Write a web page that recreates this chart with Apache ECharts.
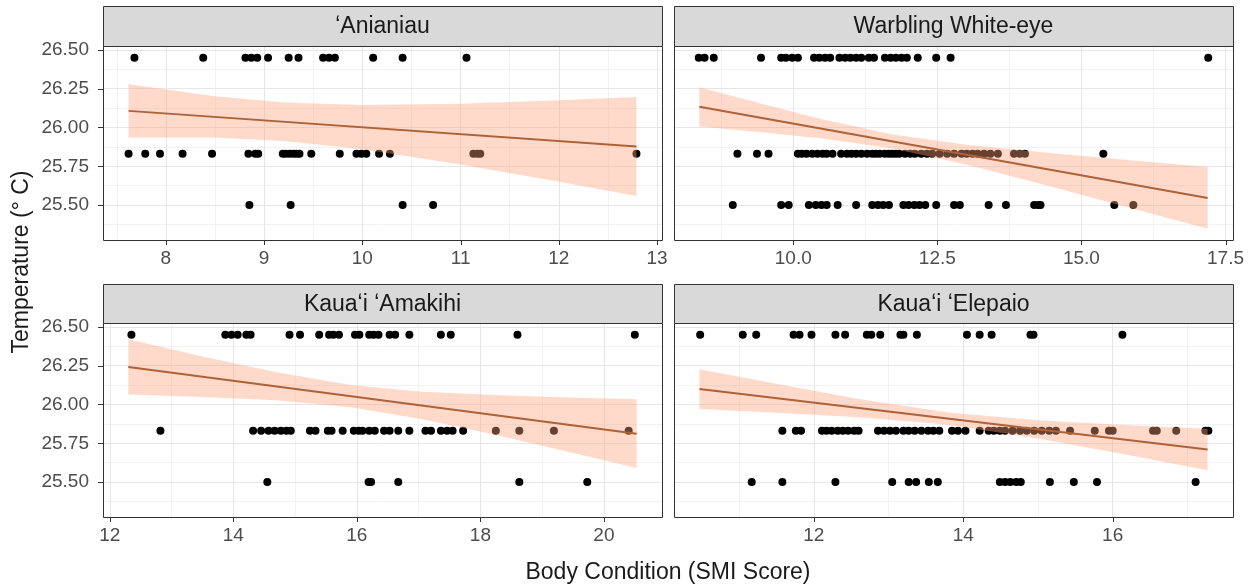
<!DOCTYPE html>
<html>
<head>
<meta charset="utf-8">
<script src="https://cdn.jsdelivr.net/npm/echarts@6/dist/echarts.min.js"></script>
<style>
html,body{margin:0;padding:0;background:#fff;}
#chart{width:1257px;height:588px;}
</style>
</head>
<body>
<div id="chart"></div>
<script>
// ---------------- data ----------------
const panelNames = ['ʻAnianiau', 'Warbling White-eye', 'Kauaʻi ʻAmakihi', 'Kauaʻi ʻElepaio'];
const tempLevels = [26.45, 25.83, 25.50];
const yTickValues = [25.5, 25.75, 26.0, 26.25, 26.5];
const xTickValues = [[8, 9, 10, 11, 12, 13], [10, 12.5, 15, 17.5], [12, 14, 16, 18, 20], [12, 14, 16]];
const xTickDecimals = [0, 1, 0, 0];
const xTitle = 'Body Condition (SMI Score)';
const yTitle = 'Temperature (° C)';

// ʻAnianiau
const anianiauHigh = [7.68, 8.38, 8.81, 8.87, 8.93, 9.04, 9.25, 9.35, 9.60, 9.66, 9.72, 10.11, 10.41, 11.06];
const anianiauMid = [7.62, 7.79, 7.94, 8.17, 8.47, 8.84, 8.91, 8.94, 9.19, 9.22, 9.26, 9.30, 9.33, 9.36, 9.48, 9.77, 9.94, 9.99, 10.04, 10.17, 10.28, 11.13, 11.17, 11.20, 12.79];
const anianiauLow = [8.85, 9.27, 10.41, 10.72];
const anianiauFitX = [7.62, 12.79];
const anianiauFitY = [26.107, 25.878];
const anianiauBandX = [7.62, 8.5, 9.2, 10.0, 11.0, 12.0, 12.79];
const anianiauBandHi = [26.278, 26.201, 26.161, 26.145, 26.153, 26.175, 26.197];
const anianiauBandLo = [25.936, 25.935, 25.913, 25.859, 25.761, 25.651, 25.559];

// Warbling White-eye
const warblingHigh = [8.36, 8.46, 8.62, 9.44, 9.79, 9.87, 9.98, 10.08, 10.36, 10.45, 10.55, 10.64, 10.80, 10.90, 10.99, 11.09, 11.18, 11.31, 11.40, 11.59, 11.69, 11.78, 11.88, 11.97, 12.16, 12.48, 12.73, 17.20];
const warblingMid = [9.03, 9.37, 9.57, 10.08, 10.15, 10.23, 10.33, 10.42, 10.51, 10.58, 10.68, 10.83, 10.93, 11.01, 11.09, 11.18, 11.28, 11.37, 11.43, 11.50, 11.59, 11.66, 11.72, 11.78, 11.84, 11.94, 12.03, 12.11, 12.22, 12.32, 12.41, 12.54, 12.67, 12.79, 12.92, 13.01, 13.11, 13.20, 13.31, 13.42, 13.55, 13.83, 13.93, 14.02, 15.38];
const warblingLow = [8.95, 9.79, 9.92, 10.27, 10.39, 10.49, 10.58, 10.77, 11.09, 11.37, 11.47, 11.56, 11.66, 11.91, 12.00, 12.10, 12.19, 12.29, 12.48, 12.79, 12.89, 13.39, 13.69, 14.18, 14.25, 14.29, 15.57, 15.90];
const warblingFitX = [8.37, 17.19];
const warblingFitY = [26.133, 25.546];
const warblingBandX = [8.37, 9.5, 10.5, 11.7, 13.0, 14.5, 15.8, 17.19];
const warblingBandHi = [26.259, 26.148, 26.053, 25.956, 25.889, 25.834, 25.790, 25.745];
const warblingBandLo = [26.007, 25.968, 25.929, 25.866, 25.761, 25.616, 25.486, 25.347];

// Kauaʻi ʻAmakihi
const amakihiHigh = [12.35, 13.87, 13.97, 14.07, 14.21, 14.28, 14.91, 15.08, 15.39, 15.55, 15.62, 15.71, 15.97, 16.04, 16.20, 16.27, 16.35, 16.53, 16.62, 16.85, 17.36, 17.52, 18.60, 20.50];
const amakihiMid = [12.82, 14.32, 14.45, 14.57, 14.67, 14.77, 14.86, 14.93, 15.24, 15.33, 15.53, 15.59, 15.77, 15.95, 16.03, 16.09, 16.20, 16.29, 16.44, 16.53, 16.67, 16.85, 17.11, 17.20, 17.36, 17.46, 17.55, 17.72, 18.25, 18.63, 19.19, 20.40];
const amakihiLow = [14.55, 16.19, 16.23, 16.67, 18.63, 19.73];
const amakihiFitX = [12.30, 20.53];
const amakihiFitY = [26.242, 25.812];
const amakihiBandX = [12.3, 13.5, 14.7, 15.9, 17.0, 18.2, 19.4, 20.53];
const amakihiBandHi = [26.420, 26.309, 26.207, 26.126, 26.084, 26.061, 26.045, 26.034];
const amakihiBandLo = [26.064, 26.049, 26.027, 25.982, 25.909, 25.808, 25.697, 25.591];

// Kauaʻi ʻElepaio
const elepaioHigh = [10.48, 11.05, 11.23, 11.73, 11.81, 11.97, 12.29, 12.42, 12.71, 12.77, 12.89, 13.16, 13.20, 13.38, 14.05, 14.22, 14.38, 14.90, 14.94, 16.13];
const elepaioMid = [11.58, 11.76, 11.83, 12.11, 12.17, 12.24, 12.32, 12.39, 12.46, 12.54, 12.60, 12.86, 12.94, 13.02, 13.10, 13.20, 13.27, 13.35, 13.44, 13.53, 13.60, 13.68, 13.85, 13.93, 14.03, 14.22, 14.34, 14.41, 14.49, 14.56, 14.66, 14.76, 14.85, 14.95, 15.05, 15.15, 15.24, 15.43, 15.76, 15.95, 16.00, 16.54, 16.59, 16.85, 17.24, 17.28];
const elepaioLow = [11.17, 11.58, 12.29, 13.05, 13.27, 13.37, 13.54, 13.66, 14.49, 14.56, 14.63, 14.71, 14.77, 15.16, 15.48, 15.79, 17.11];
const elepaioFitX = [10.47, 17.27];
const elepaioFitY = [26.099, 25.710];
const elepaioBandX = [10.47, 11.5, 12.6, 13.8, 15.0, 16.1, 17.27];
const elepaioBandHi = [26.227, 26.133, 26.036, 25.949, 25.899, 25.870, 25.843];
const elepaioBandLo = [25.971, 25.947, 25.918, 25.869, 25.781, 25.684, 25.577];

// axis limits (panel extents)
const xLimits = [[7.36, 13.05], [7.93, 17.63], [11.89, 20.94], [10.13, 17.61]];
const xSteps = [1, 2.5, 2, 2];
const yLimits = [25.275, 26.525];
const ySteps = 0.25;

// ---------------- layout ----------------
const FONT = '"Liberation Sans", Arial, sans-serif';
const colLeft = [103, 674];
const panelW = 559;
const rowTop = [46, 323];
const panelH = 194;
const stripTop = [6, 284];

const panels = [
  {high: anianiauHigh, mid: anianiauMid, low: anianiauLow, fx: anianiauFitX, fy: anianiauFitY, bx: anianiauBandX, bh: anianiauBandHi, bl: anianiauBandLo},
  {high: warblingHigh, mid: warblingMid, low: warblingLow, fx: warblingFitX, fy: warblingFitY, bx: warblingBandX, bh: warblingBandHi, bl: warblingBandLo},
  {high: amakihiHigh, mid: amakihiMid, low: amakihiLow, fx: amakihiFitX, fy: amakihiFitY, bx: amakihiBandX, bh: amakihiBandHi, bl: amakihiBandLo},
  {high: elepaioHigh, mid: elepaioMid, low: elepaioLow, fx: elepaioFitX, fy: elepaioFitY, bx: elepaioBandX, bh: elepaioBandHi, bl: elepaioBandLo}
];

const isIn = (list, v) => list.some(t => Math.abs(t - v) < 1e-6);

const grid = [], xAxis = [], yAxis = [], series = [], graphics = [];

panels.forEach((p, i) => {
  const col = i % 2, row = Math.floor(i / 2);
  const left = colLeft[col], top = rowTop[row];
  grid.push({left: left, top: top, width: panelW, height: panelH, containLabel: false, outerBoundsMode: 'none', show: false});
});
// main axes 0..3
panels.forEach((p, i) => {
  const col = i % 2;
  xAxis.push({
    gridIndex: i, type: 'value', min: xLimits[i][0], max: xLimits[i][1],
    minInterval: xSteps[i], maxInterval: xSteps[i], z: 2,
    axisLine: {show: false}, axisTick: {show: false},
    axisLabel: {show: true, color: '#4D4D4D', fontSize: 19, fontFamily: FONT, margin: 9,
      formatter: v => isIn(xTickValues[i], v) ? v.toFixed(xTickDecimals[i]) : ''},
    splitLine: {show: true, showMinLine: false, showMaxLine: false, lineStyle: {color: '#E6E6E6', width: 1}}
  });
  yAxis.push({
    gridIndex: i, type: 'value', min: yLimits[0], max: yLimits[1],
    minInterval: ySteps, maxInterval: ySteps, z: 2,
    axisLine: {show: false}, axisTick: {show: false},
    axisLabel: {show: col === 0, color: '#4D4D4D', fontSize: 19, fontFamily: FONT, margin: 14,
      formatter: v => isIn(yTickValues, v) ? v.toFixed(2) : ''},
    splitLine: {show: true, showMinLine: false, showMaxLine: false, lineStyle: {color: '#E6E6E6', width: 1}}
  });
});
// minor-grid axes 4..7
panels.forEach((p, i) => {
  xAxis.push({
    gridIndex: i, type: 'value', min: xLimits[i][0], max: xLimits[i][1],
    minInterval: xSteps[i] / 2, maxInterval: xSteps[i] / 2, z: 1,
    axisLine: {show: false}, axisTick: {show: false}, axisLabel: {show: false},
    splitLine: {show: true, showMinLine: false, showMaxLine: false, lineStyle: {color: '#F2F2F2', width: 1}}
  });
  yAxis.push({
    gridIndex: i, type: 'value', min: yLimits[0], max: yLimits[1],
    minInterval: ySteps / 2, maxInterval: ySteps / 2, z: 1,
    axisLine: {show: false}, axisTick: {show: false}, axisLabel: {show: false},
    splitLine: {show: true, showMinLine: false, showMaxLine: false, lineStyle: {color: '#F2F2F2', width: 1}}
  });
});

panels.forEach((p, i) => {
  const col = i % 2;
  const pts = [].concat(
    p.high.map(x => [x, tempLevels[0]]),
    p.mid.map(x => [x, tempLevels[1]]),
    p.low.map(x => [x, tempLevels[2]])
  );
  series.push({
    type: 'scatter', xAxisIndex: i, yAxisIndex: i, data: pts, symbolSize: 8,
    itemStyle: {color: '#000000', opacity: 1}, z: 3, silent: true, animation: false
  });
  const band = p.bx.map((x, k) => [x, p.bl[k], p.bh[k]]);
  series.push({
    type: 'custom', xAxisIndex: i, yAxisIndex: i, data: band, z: 4, silent: true, animation: false,
    renderItem: (params, api) => {
      if (params.dataIndex !== 0) return null;
      const upper = band.map(d => api.coord([d[0], d[2]]));
      const lower = band.map(d => api.coord([d[0], d[1]])).reverse();
      return {type: 'polygon', shape: {points: upper.concat(lower)},
        style: {fill: 'rgba(255,160,122,0.4)', stroke: null}};
    }
  });
  series.push({
    type: 'line', xAxisIndex: i, yAxisIndex: i, data: p.fx.map((x, k) => [x, p.fy[k]]),
    showSymbol: false, symbol: 'none', lineStyle: {color: '#AE6238', width: 2}, z: 5, silent: true, animation: false
  });
  // x ticks
  series.push({
    type: 'custom', xAxisIndex: i, yAxisIndex: i, data: xTickValues[i].map(v => [v]), z: 6, silent: true, animation: false,
    renderItem: (params, api) => {
      const c = api.coord([api.value(0), yLimits[0]]);
      return {type: 'line', shape: {x1: Math.round(c[0]) + 0.5, y1: c[1], x2: Math.round(c[0]) + 0.5, y2: c[1] + 5},
        style: {stroke: '#333333', lineWidth: 1}};
    }
  });
  if (col === 0) {
    series.push({
      type: 'custom', xAxisIndex: i, yAxisIndex: i, data: yTickValues.map(v => [v]), z: 6, silent: true, animation: false,
      renderItem: (params, api) => {
        const c = api.coord([xLimits[i][0], api.value(0)]);
        return {type: 'line', shape: {x1: c[0] - 5, y1: Math.round(c[1]) + 0.5, x2: c[0], y2: Math.round(c[1]) + 0.5},
          style: {stroke: '#333333', lineWidth: 1}};
      }
    });
  }
});

// strips, borders, titles
panels.forEach((p, i) => {
  const col = i % 2, row = Math.floor(i / 2);
  const left = colLeft[col], top = rowTop[row];
  const sTop = stripTop[row];
  graphics.push({type: 'rect', z: 100, shape: {x: left + 0.5, y: sTop + 0.5, width: panelW, height: top - sTop},
    style: {fill: '#D9D9D9', stroke: '#333333', lineWidth: 1}});
  graphics.push({type: 'text', z: 101, x: left + panelW / 2, y: sTop + (top - sTop) / 2 + 1,
    style: {text: panelNames[i], fill: '#1A1A1A', font: '23px ' + FONT, textAlign: 'center', textVerticalAlign: 'middle'}});
  graphics.push({type: 'rect', z: 100, shape: {x: left + 0.5, y: top + 0.5, width: panelW, height: panelH},
    style: {fill: 'none', stroke: '#333333', lineWidth: 1}});
});
graphics.push({type: 'text', z: 101, x: 668, y: 573,
  style: {text: xTitle, fill: '#1A1A1A', font: '23px ' + FONT, textAlign: 'center', textVerticalAlign: 'middle'}});
graphics.push({type: 'text', z: 101, x: 22, y: 262, rotation: Math.PI / 2,
  style: {text: yTitle, fill: '#1A1A1A', font: '23px ' + FONT, textAlign: 'center', textVerticalAlign: 'middle'}});

const chart = echarts.init(document.getElementById('chart'), null, {renderer: 'canvas'});
chart.setOption({
  animation: false,
  backgroundColor: '#FFFFFF',
  grid: grid, xAxis: xAxis, yAxis: yAxis, series: series,
  graphic: {elements: graphics}
});
</script>
</body>
</html>
